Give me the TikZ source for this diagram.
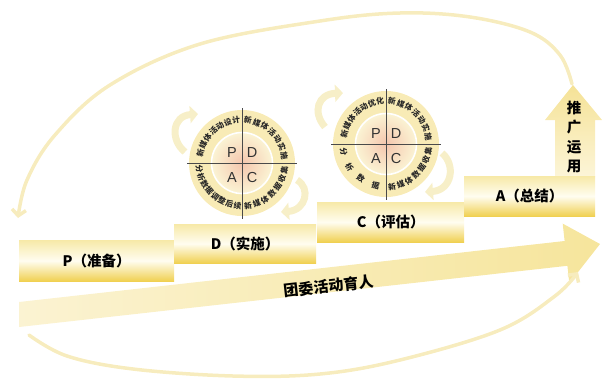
\documentclass[tikz,border=0pt]{standalone}
\usepackage{fontspec}
\newfontfamily\cjk{Noto Sans CJK SC}
\newfontfamily\latf{Liberation Sans}
\usetikzlibrary{arrows.meta}

\definecolor{gold}{HTML}{F0D050}
\definecolor{paleY}{HTML}{F7E9A8}
\definecolor{cream}{HTML}{FFFDF0}
\definecolor{arcY}{HTML}{F7ECBE}
\definecolor{ringY}{HTML}{F8EBB6}
\definecolor{peach}{HTML}{F5C6AE}
\definecolor{lineG}{HTML}{4A4A4A}
\definecolor{bigL}{HTML}{FBF3D2}
\definecolor{bigR}{HTML}{F6E59C}
\definecolor{upT}{HTML}{F5E296}
\definecolor{upB}{HTML}{FCF5D8}
\definecolor{cycY}{HTML}{F7EFC8}

\tikzset{
 stepbox/.style={shade, top color=paleY, bottom color=gold, middle color=cream, draw=none,
   inner sep=0pt, anchor=north west, font=\cjk\bfseries\fontsize{14.5}{16}\selectfont, text=black},
 bigarc/.style={draw=arcY, line width=3.5pt, line cap=round},
 cyc/.style={draw=cycY, line width=7pt, -{Triangle[length=8pt,width=17pt]}},
 ringtxt/.style={font=\cjk\bfseries\fontsize{7.8}{8}\selectfont, inner sep=0pt, text=black!85},
 pdca/.style={font=\latf\fontsize{14.5}{16}\selectfont, text=black!80, inner sep=0pt},
 crossln/.style={draw=lineG, line width=0.9pt},
}

\newcommand{\ringword}[7]{%
 \foreach \cc [count=\ci from 0] in {#6} {
   \pgfmathsetmacro{\th}{#3+\ci*(#4)}
   \node[ringtxt, rotate={\th#5}] (#7\ci) at ({#1+43*cos(\th)},{#2-43*sin(\th)}) {\cc};
 }}

\newcommand{\wheelbase}[3]{%
 \coordinate (#3) at (#1,#2);
 \fill[ringY] (#3) circle[radius=53pt];
 \shade[inner color=peach, outer color=ringY!60!white] (#3) circle[radius=30pt];
 \draw[white, line width=1.6pt] (#3) circle[radius=30.5pt];
 \draw[crossln] (#1-55,#2) -- (#1+55,#2);
 \draw[crossln] (#1,#2-55) -- (#1,#2+56);
 \node[pdca] (#3P) at (#1-10,#2-10) {P};
 \node[pdca] (#3D) at (#1+10,#2-10) {D};
 \node[pdca] (#3A) at (#1-10,#2+15) {A};
 \node[pdca] (#3C) at (#1+10,#2+15) {C};
}

\begin{document}
\begin{tikzpicture}[x=1pt,y=-1pt]
\useasboundingbox (0,0) rectangle (604,378);

% big arrow
\shade[left color=bigL, right color=bigR] (19,302) -- (564.6,241) -- (562.7,223.6) -- (600,244) -- (569.3,283.2) -- (567.4,265.8) -- (19,327) -- cycle;
\node[font=\cjk\bfseries\fontsize{15}{17}\selectfont, rotate=6.4, inner sep=0pt] (tw) at (329,286) {团委活动育人};

% bottom arc
\draw[bigarc, -{Straight Barb[length=6pt,width=13pt]}] plot[smooth, tension=0.6] coordinates {(29,335) (67,356) (133,369) (233,376) (320,374) (400,360) (500,330) (555,296) (578,272)};

% top arc
\draw[bigarc, -{Straight Barb[length=6pt,width=14pt]}] plot[smooth, tension=0.6] coordinates {(572,84) (560,55) (530,32) (470,17) (400,13) (320,21) (200,44) (110,85) (55,135) (27,180) (18,218)};

% up arrow
\shade[top color=upT, bottom color=upB] (555,177) -- (555,120) -- (545,120) -- (573,85) -- (602,120) -- (595,120) -- (595,177) -- cycle;
\node[font=\cjk\bfseries\fontsize{14.5}{19.5}\selectfont, align=center, inner sep=0pt] (tg) at (574,137) {推\\广\\运\\用};

% step boxes
\node[stepbox, minimum width=155pt, minimum height=41pt] (P) at (19,240) {P（准备）};
\node[stepbox, minimum width=142pt, minimum height=39pt] (D) at (174,224) {D（实施）};
\node[stepbox, minimum width=147pt, minimum height=40pt] (C) at (317,202) {C（评估）};
\node[stepbox, minimum width=131pt, minimum height=40pt] (A) at (464,176) {A（总结）};

% wheel 1
\wheelbase{242}{163}{wa}
\ringword{242}{163}{166}{-11.33}{-90}{新,媒,体,活,动,设,计}{waul}
\ringword{242}{163}{82}{-12}{-90}{新,媒,体,活,动,实,施}{waur}
\ringword{242}{163}{-82}{12}{+90}{新,媒,体,数,据,收,集}{walr}
\ringword{242}{163}{188}{10.86}{+90}{分,析,数,据,调,整,后,续}{wall}
\coordinate (wa1s) at (185,152);
\coordinate (wa1e) at (198,114);
\draw[cyc] (wa1s) .. controls (170,140) and (172,116) .. (wa1e);
\coordinate (wa2s) at (297,180);
\coordinate (wa2e) at (281,212);
\draw[cyc] (wa2s) .. controls (311,188) and (306,210) .. (wa2e);

% wheel 2
\wheelbase{386}{144}{wb}
\ringword{386}{144}{166}{-11.33}{-90}{新,媒,体,活,动,优,化}{wbul}
\ringword{386}{144}{82}{-12}{-90}{新,媒,体,活,动,实,施}{wbur}
\ringword{386}{144}{-82}{12}{+90}{新,媒,体,数,据,收,集}{wblr}
\ringword{386}{144}{190}{22}{+90}{分,析,数,据}{wbll}
\coordinate (wb1s) at (325,127);
\coordinate (wb1e) at (343,93);
\draw[cyc] (wb1s) .. controls (312,112) and (318,94) .. (wb1e);
\coordinate (wb2s) at (442,153);
\coordinate (wb2e) at (425,192);
\draw[cyc] (wb2s) .. controls (456,165) and (452,190) .. (wb2e);
\end{tikzpicture}
\end{document}
